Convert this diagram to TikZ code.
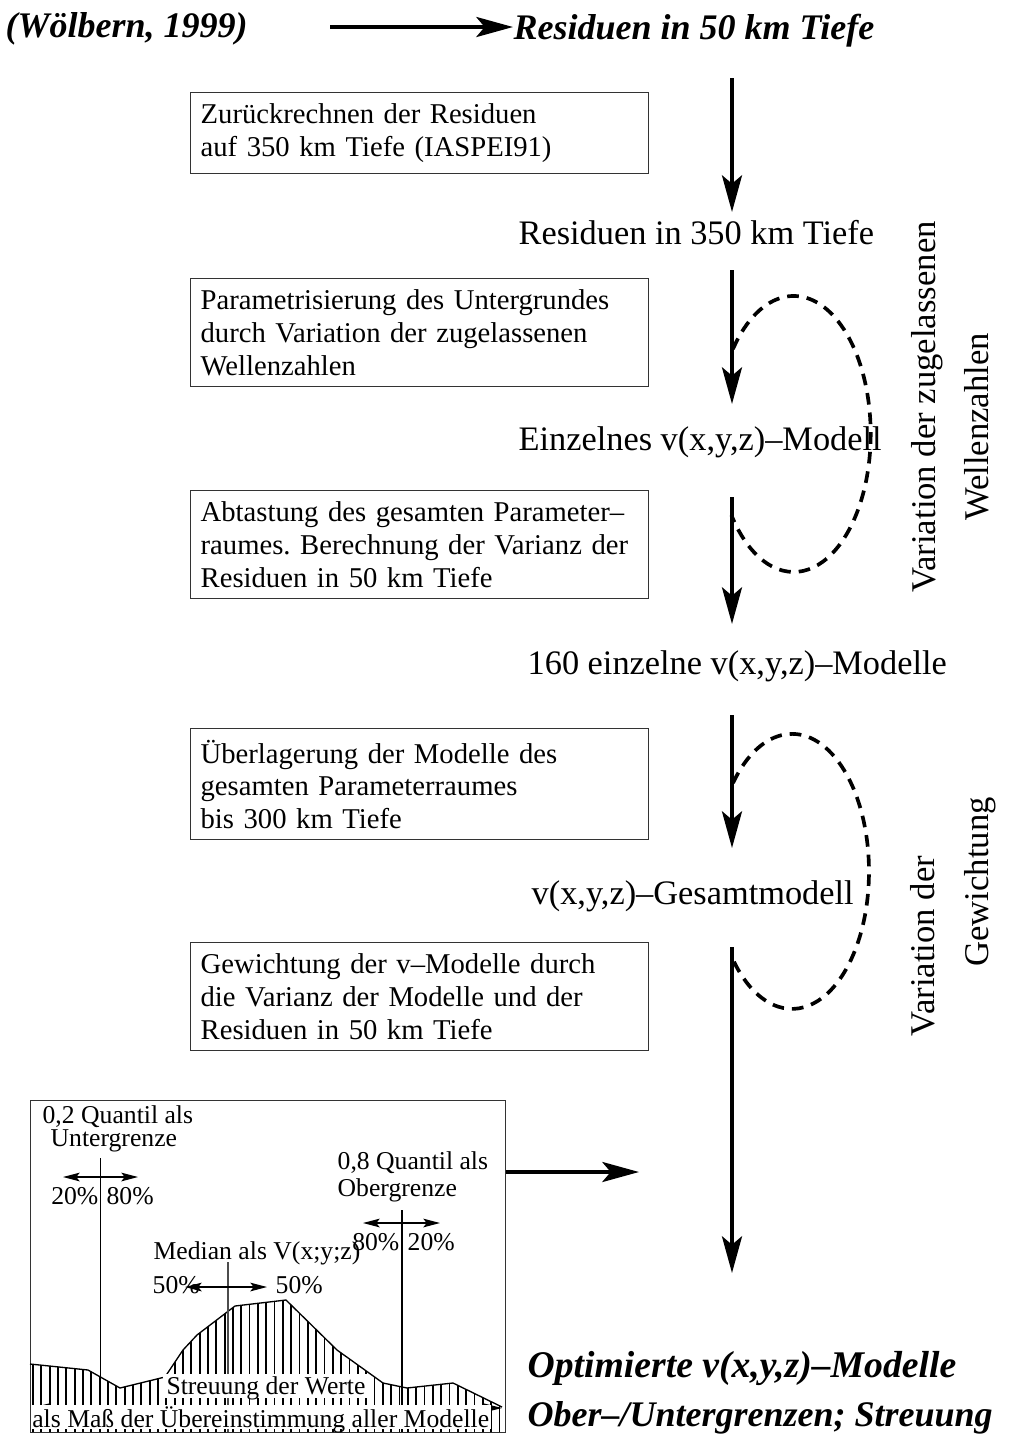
\documentclass[tikz,border=0pt]{standalone}
\usepackage{fontspec}
\setmainfont{Liberation Serif}
\usetikzlibrary{arrows.meta}
\frenchspacing

\begin{document}
\begin{tikzpicture}[x=0.3pt, y=-0.3pt,
  lbl/.style={anchor=west, inner sep=0pt, font=\fontsize{10.3}{12}\selectfont},
  ttl/.style={anchor=west, inner sep=0pt, font=\fontsize{10.8}{13}\selectfont\bfseries\itshape},
  stepbox/.style={draw=black!80, line width=0.4pt, anchor=north west, align=left, text width=131.4pt, inner xsep=3pt, font=\fontsize{8.6}{9.8}\selectfont},
  vlbl/.style={rotate=90, inner sep=0pt, font=\fontsize{10.4}{12}\selectfont},
  chartlbl/.style={inner sep=0pt, font=\fontsize{7.7}{8}\selectfont},
  flow/.style={line width=1.2pt, -{Stealth[length=11pt, width=6pt, inset=2.5pt]}},
  loopline/.style={line width=1.1pt, dash pattern=on 3.5pt off 2.4pt},
  quantarrow/.style={line width=0.35pt, {Stealth[length=5pt, width=2.6pt, inset=1pt]}-{Stealth[length=5pt, width=2.6pt, inset=1pt]}},
  ]
	\useasboundingbox (0,0) rectangle (1019,1444);
	\node[ttl] (wolb) at (5,29) {(Wölbern, 1999)};
	\node[ttl] (r50) at (513,31) {Residuen in 50 km Tiefe};
	\coordinate (wa) at (330,27);
	\draw[flow] (wa) -- (r50.west |- wa);
	\node[lbl] (r350) at (518,233) {Residuen in 350 km Tiefe};
	\node[lbl] (einz) at (518,442) {Einzelnes v(x,y,z)--Modell};
	\node[lbl] (m160) at (527,666) {160 einzelne v(x,y,z)--Modelle};
	\node[lbl] (gesamt) at (531,896) {v(x,y,z)--Gesamtmodell};
	\node[ttl, font=\fontsize{11.3}{13}\selectfont\bfseries\itshape] (opt1) at (527,1368) {Optimierte v(x,y,z)--Modelle};
	\node[ttl] (opt2) at (527,1418) {Ober--/Untergrenzen; Streuung};
	\foreach \n/\ya/\yb in {1/78/212, 2/270/404, 3/497/624, 4/715/848, 5/947/1273} {
		\coordinate (s\n) at (732,\ya);
		\coordinate (t\n) at (732,\yb);
		\draw[flow] (s\n) -- (t\n);
	}
	\coordinate (l1) at (733,349);
	\draw[loopline] (l1) arc[start angle=218, end angle=504, x radius=77, y radius=138];
	\coordinate (l2) at (733,783);
	\draw[loopline] (l2) arc[start angle=220, end angle=502, x radius=77, y radius=137.5];
	\node[stepbox, minimum height=23.1pt] (b1) at (190,92) {Zurückrechnen der Residuen\\auf 350 km Tiefe (IASPEI91)};
	\node[stepbox, minimum height=31.2pt] (b2) at (190,278) {Parametrisierung des Untergrundes\\durch Variation der zugelassenen\\Wellenzahlen};
	\node[stepbox, minimum height=30.9pt] (b3) at (190,490) {Abtastung des gesamten Parameter--\\raumes. Berechnung der Varianz der\\Residuen in 50 km Tiefe};
	\node[stepbox, minimum height=30.6pt] (b4) at (190,728) {Überlagerung der Modelle des\\gesamten Parameterraumes\\bis 300 km Tiefe};
	\node[stepbox, minimum height=31.8pt] (b5) at (190,942) {Gewichtung der v--Modelle durch\\die Varianz der Modelle und der\\Residuen in 50 km Tiefe};
	\node[vlbl] (var1) at (927,407) {Variation der zugelassenen};
	\node[vlbl] (wz) at (977,427) {Wellenzahlen};
	\node[vlbl] (var2) at (923,946) {Variation der};
	\node[vlbl] (gew) at (980,882) {Gewichtung};
	\node[draw=black!80, line width=0.4pt, anchor=north west, minimum width=142.5pt, minimum height=99.6pt, inner sep=0pt] (chart) at (30,1100) {};
	\coordinate (cin) at (639,1172);
	\draw[flow] (chart.east |- cin) -- (cin);
	\begin{scope}
		\clip (30,1364) -- (88,1370) -- (120,1388) -- (165,1377) -- (183,1350) -- (197,1335) -- (235,1306) -- (286,1300) -- (337,1350) -- (383,1383) -- (407,1388) -- (453,1383) -- (502,1407) -- (505,1432) -- (30,1432) -- cycle;
		\foreach \i in {0,...,56} \draw[line width=0.55pt] ({33+8.33*\i},1290) -- ++(0,150);
	\end{scope}
	\draw[line width=0.4pt] (30,1364) -- (88,1370) -- (120,1388) -- (165,1377) -- (183,1350) -- (197,1335) -- (235,1306) -- (286,1300) -- (337,1350) -- (383,1383) -- (407,1388) -- (453,1383) -- (502,1407);
	\draw[line width=0.4pt] (100.7,1158) -- (100.7,1432);
	\draw[line width=0.4pt] (402,1210) -- (402,1432);
	\draw[line width=0.4pt, black!70] (228,1262) -- (228,1432);
	\node[chartlbl, anchor=west] (q2a) at (42,1117) {0,2 Quantil als};
	\node[chartlbl, anchor=west] (q2b) at (50,1141) {Untergrenze};
	\node[chartlbl, anchor=west] (q8a) at (337,1163) {0,8 Quantil als};
	\node[chartlbl, anchor=west] (q8b) at (337,1190) {Obergrenze};
	\node[chartlbl, anchor=east] (p20a) at (99,1196) {20\%};
	\node[chartlbl, anchor=west] (p80a) at (106,1196) {80\%};
	\node[chartlbl, anchor=east] (p80b) at (400,1242) {80\%};
	\node[chartlbl, anchor=west] (p20b) at (407,1242) {20\%};
	\node[chartlbl, anchor=west] (med) at (153,1253) {Median als V(x;y;z)};
	\node[chartlbl, anchor=west] (p50a) at (152,1285) {50\%};
	\node[chartlbl, anchor=west] (p50b) at (275,1285) {50\%};
	\draw[quantarrow] (63,1177) -- (138,1177);
	\draw[quantarrow] (363,1223) -- (440,1223);
	\draw[quantarrow] (185,1287) -- (267,1287);
	\node[chartlbl, fill=white, inner sep=1pt, text depth=0pt] (streu) at (266,1386) {Streuung der Werte};
	\draw[line width=0.7pt, {Stealth[length=6pt, width=3pt, inset=1.5pt]}-{Stealth[length=6pt, width=3pt, inset=1.5pt]}] (31,1408) -- (502,1408);
	\node[chartlbl, fill=white, inner sep=0.5pt, text depth=0pt, anchor=west] (mass) at (30,1417) {als Maß der Übereinstimmung aller Modelle};
\end{tikzpicture}
\end{document}
